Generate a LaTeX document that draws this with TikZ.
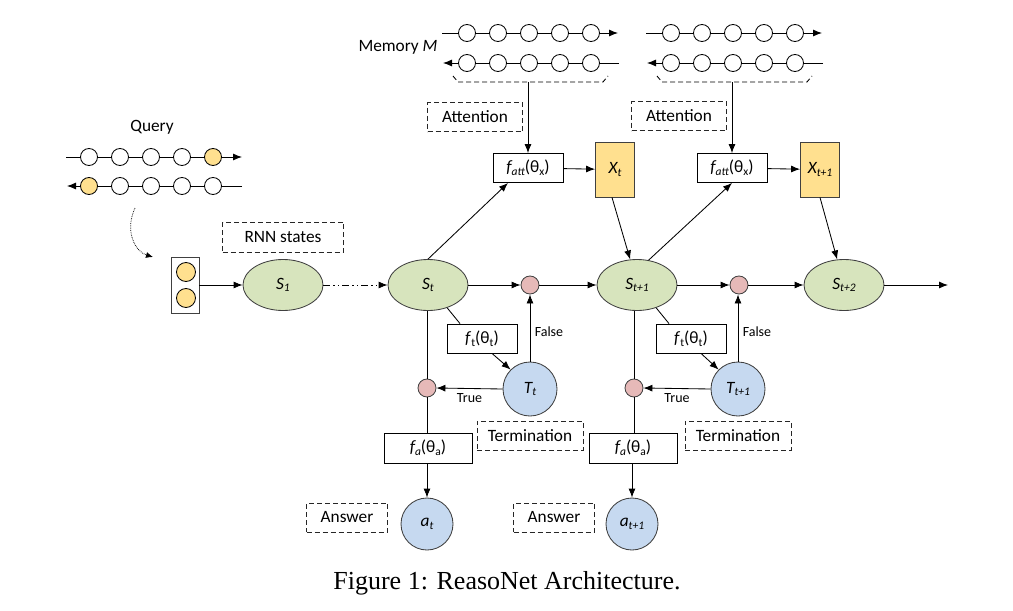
\documentclass[tikz,border=0pt]{standalone}
\usepackage{fontspec}
\setmainfont{Carlito}
\newfontfamily\capfont{Liberation Serif}
\usetikzlibrary{arrows.meta,shapes.geometric,calc}

% lowered, smaller text for subscripts
\newcommand\lowr[1]{\raisebox{-2.6pt}{\fontsize{11.5}{12}\selectfont #1}}

\definecolor{sgreen}{HTML}{D7E4BD}
\definecolor{sblue}{HTML}{C6D9F0}
\definecolor{spink}{HTML}{E6B9B8}
\definecolor{syellow}{HTML}{FFE08F}
\definecolor{edgegray}{HTML}{404040}

\tikzset{
  state/.style={ellipse, draw=edgegray, fill=sgreen, minimum width=80pt, minimum height=51pt, inner sep=0pt},
  junc/.style={circle, draw=edgegray, fill=spink, minimum size=18pt, inner sep=0pt},
  tnode/.style={circle, draw=edgegray, fill=sblue, minimum size=54pt, inner sep=0pt},
  anode/.style={circle, draw=edgegray, fill=sblue, minimum size=52pt, inner sep=0pt},
  func/.style={rectangle, draw=black, fill=white, minimum height=29pt, inner sep=2pt},
  tag/.style={rectangle, draw=black!85, dash pattern=on 5pt off 3pt, minimum height=29pt, inner sep=2pt},
  xvec/.style={rectangle, draw=edgegray, fill=syellow, minimum width=39pt, minimum height=55pt},
  cell/.style={circle, draw=black, fill=white, minimum size=17pt, inner sep=0pt},
  qcell/.style={cell, fill=syellow},
  flow/.style={-{Latex[length=9pt,width=7pt]}, draw=black},
  plain/.style={draw=black},
  small/.style={font=\fontsize{14}{15}\selectfont},
}

\begin{document}
\begin{tikzpicture}[x=1pt, y=-1pt, line width=0.85pt, font=\fontsize{17.3}{19}\selectfont]
\useasboundingbox (0,0) rectangle (1013,611);

% ---------- memory sequences (bidirectional) ----------
\foreach \m/\dx in {1/0, 2/204} {
  \begin{scope}[xshift=\dx pt]
    \coordinate (m\m fa) at (442,33);
    \coordinate (m\m fb) at (618,33);
    \coordinate (m\m ba) at (619,63);
    \coordinate (m\m bb) at (443,63);
    \draw[flow] (m\m fa) -- (m\m fb);
    \draw[flow] (m\m ba) -- (m\m bb);
    \foreach \x [count=\i] in {467,498,529,560,591} {
      \node[cell] (m\m t\i) at (\x,33) {};
      \node[cell] (m\m b\i) at (\x,63) {};
    }
    \draw[black, dash pattern=on 5pt off 3pt] (453,76) -- (458,82) -- (603,82) -- (608,76);
    \coordinate (m\m v) at (528,82);
  \end{scope}
}
\node (memlbl) at (398,47) {Memory \textit{M}};

% ---------- query sequence ----------
\node (qlbl) at (152,127) {Query};
\coordinate (qfa) at (66,157);
\coordinate (qfb) at (242,157);
\coordinate (qba) at (242,186);
\coordinate (qbb) at (67,186);
\draw[flow] (qfa) -- (qfb);
\draw[flow] (qba) -- (qbb);
\foreach \x [count=\i] in {89,120,151,182,213} {
  \ifnum\i=5 \node[qcell] (qt\i) at (\x,157) {}; \else \node[cell] (qt\i) at (\x,157) {}; \fi
  \ifnum\i=1 \node[qcell] (qb\i) at (\x,186) {}; \else \node[cell] (qb\i) at (\x,186) {}; \fi
}
\coordinate (qs) at (135,208);
\coordinate (qe) at (153,257);
\draw[-{Latex[length=7pt,width=6pt]}, densely dotted, line width=0.75pt] (qs) .. controls (124,232) and (136,252) .. (qe);

% initial state vector
\node[rectangle, draw=edgegray, fill=white, minimum width=28pt, minimum height=56pt] (qbox) at (185,285) {};
\node[qcell, minimum size=19pt] (qc1) at (186,272) {};
\node[qcell, minimum size=19pt] (qc2) at (186,298) {};

% ---------- tags ----------
\node[tag, minimum width=121pt, minimum height=30pt] (rnn) at (283,237) {RNN states};
\node[tag, minimum width=95pt] (attn1) at (475,117) {Attention};
\node[tag, minimum width=95pt] (attn2) at (679,116) {Attention};
\node[tag, minimum width=106pt] (term1) at (530,435.5) {Termination};
\node[tag, minimum width=106pt] (term2) at (738,435.5) {Termination};
\node[tag, minimum width=81pt] (ans1) at (347,517.5) {Answer};
\node[tag, minimum width=81pt] (ans2) at (554,517.5) {Answer};

% ---------- states ----------
\node[state] (S1)  at (283,285) {\textit{S\lowr{1}}};
\node[state] (St)  at (428,285) {\textit{S\lowr{t}}};
\node[state] (St1) at (637,285) {\textit{S\lowr{t+1}}};
\node[state] (St2) at (844,285) {\textit{S\lowr{t+2}}};
\coordinate (out) at (948,285);

\node[junc] (P1) at (530,285) {};
\node[junc] (P2) at (739,285) {};

% ---------- attention ----------
\node[func, minimum width=70pt] (fatt1) at (528,168) {\textit{f\lowr{att}}(θ\lowr{x})};
\node[func, minimum width=70pt] (fatt2) at (732,168) {\textit{f\lowr{att}}(θ\lowr{x})};
\node[xvec] (Xt)  at (615,169.5) {\textit{X\lowr{t}}};
\node[xvec] (Xt1) at (820,169.5) {\textit{X\lowr{t+1}}};

% ---------- termination ----------
\node[func, minimum width=70pt] (ft1) at (482,338.5) {\textit{f}\lowr{t}(θ\lowr{t})};
\node[func, minimum width=70pt] (ft2) at (691,338.5) {\textit{f}\lowr{t}(θ\lowr{t})};
\node[tnode] (Tt)  at (530,389) {\textit{T\lowr{t}}};
\node[tnode] (Tt1) at (738,389) {\textit{T\lowr{t+1}}};
\node[junc] (Q1) at (427,388) {};
\node[junc] (Q2) at (634,388) {};

% ---------- answer ----------
\node[func, minimum width=88pt, minimum height=30pt] (fa1) at (428,448) {\textit{f\lowr{a}}(θ\lowr{a})};
\node[func, minimum width=88pt, minimum height=30pt] (fa2) at (633,448) {\textit{f\lowr{a}}(θ\lowr{a})};
\node[anode] (at)  at (427,524) {\textit{a\lowr{t}}};
\node[anode] (at1) at (632,524) {\textit{a\lowr{t+1}}};

% ---------- connectors ----------
\draw[flow] (qbox.east) -- (S1.west);
\draw[flow, dash pattern=on 7pt off 3pt on 1.5pt off 3pt on 1.5pt off 3pt] (S1) -- (St);
\draw[flow] (St) -- (P1);
\draw[flow] (P1) -- (St1);
\draw[flow] (St1) -- (P2);
\draw[flow] (P2) -- (St2);
\draw[flow] (St2) -- (out);

% memory to attention
\draw[flow] (m1v) -- (fatt1.north);
\draw[flow] (m2v) -- (fatt2.north);
\draw[flow] (St.north) -- ([xshift=-20pt]fatt1.south);
\draw[flow] (St1.65) -- (fatt2.south);
\draw[flow] (fatt1) -- (Xt);
\draw[flow] (fatt2) -- (Xt1);
\draw[flow] ([xshift=-3pt]Xt.south) -- (St1.105);
\draw[flow] (Xt1.south) -- (St2.105);

% termination gates
\draw[plain] (St.-50) -- ([xshift=-22pt]ft1.north);
\draw[flow] ([xshift=10pt]ft1.south) -- (Tt.135);
\draw[plain] (St1.-50) -- ([xshift=-22pt]ft2.north);
\draw[flow] ([xshift=10pt]ft2.south) -- (Tt1.135);

\draw[flow] (Tt.north) -- (P1.south) node[small, midway, right, xshift=1pt, yshift=-4pt] (false1) {False};
\draw[flow] (Tt1.north) -- (P2.south -| Tt1.north) node[small, midway, right, xshift=1pt, yshift=-4pt] (false2) {False};
\draw[flow] (Tt.west) -- (Q1.east) node[small, midway, below, yshift=-1pt] (true1) {True};
\draw[flow] (Tt1.west) -- (Q2.east) node[small, midway, below, yshift=-1pt] (true2) {True};

% answer path
\draw[plain] (St.south -| Q1.north) -- (Q1.north);
\draw[plain] (St1.south -| Q2.north) -- (Q2.north);
\draw[plain] (Q1.south) -- (Q1.south |- fa1.north);
\draw[plain] (Q2.south) -- (Q2.south |- fa2.north);
\draw[flow] (fa1.south -| at.north) -- (at.north);
\draw[flow] (fa2.south -| at1.north) -- (at1.north);

% caption
\node[font=\capfont\fontsize{26}{30}\selectfont] (cap) at (507,583) {Figure 1: ReasoNet Architecture.};
\end{tikzpicture}
\end{document}
